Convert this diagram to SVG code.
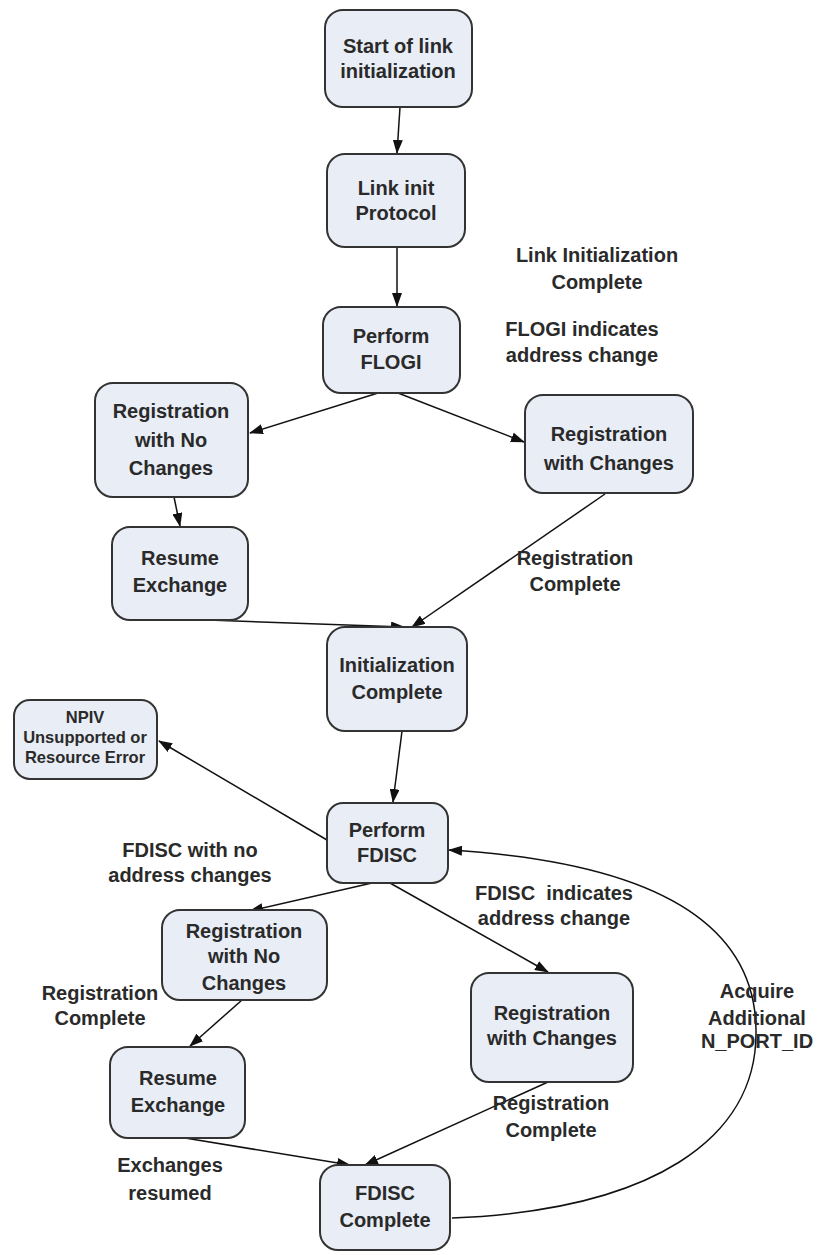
<svg xmlns="http://www.w3.org/2000/svg" width="817" height="1255" viewBox="0 0 817 1255">
<style>
.box{fill:#e9edf6;stroke:#333;stroke-width:2}
text{font-family:"Liberation Sans",Arial,sans-serif;font-weight:bold;font-size:20px;fill:#2a2a2a;text-anchor:middle}
.sm{font-size:16.5px}
.c{fill:none;stroke:#111;stroke-width:1.5}
</style>
<defs>
<marker id="ah" markerWidth="14" markerHeight="10" refX="13" refY="5" orient="auto" markerUnits="userSpaceOnUse">
<path d="M0,0 L14,5 L0,10 Z" fill="#111"/>
</marker>
</defs>
<rect width="817" height="1255" fill="#fff"/>
<g id="connectors">
<line class="c" x1="400" y1="107" x2="397" y2="153" marker-end="url(#ah)"/>
<line class="c" x1="397" y1="247" x2="397" y2="306" marker-end="url(#ah)"/>
<line class="c" x1="378" y1="393" x2="250" y2="433" marker-end="url(#ah)"/>
<line class="c" x1="398" y1="393" x2="524" y2="442" marker-end="url(#ah)"/>
<line class="c" x1="174" y1="497" x2="180" y2="526" marker-end="url(#ah)"/>
<line class="c" x1="605" y1="494" x2="412" y2="627" marker-end="url(#ah)"/>
<line class="c" x1="180" y1="619" x2="404" y2="627" marker-end="url(#ah)"/>
<line class="c" x1="402" y1="731" x2="393" y2="802" marker-end="url(#ah)"/>
<line class="c" x1="327" y1="840" x2="159" y2="741" marker-end="url(#ah)"/>
<line class="c" x1="372" y1="883" x2="250" y2="911" marker-end="url(#ah)"/>
<line class="c" x1="390" y1="883" x2="548" y2="972" marker-end="url(#ah)"/>
<line class="c" x1="242" y1="1000" x2="190" y2="1046" marker-end="url(#ah)"/>
<line class="c" x1="185" y1="1138" x2="350" y2="1165" marker-end="url(#ah)"/>
<line class="c" x1="548" y1="1082" x2="365" y2="1165" marker-end="url(#ah)"/>
<path class="c" d="M452,1218 C650,1210 758,1140 756,1030 C755,920 650,862 449,850" marker-end="url(#ah)"/>
</g>
<g id="n1"><rect class="box" x="325" y="10" width="147" height="97" rx="18"/><text x="398" y="53">Start of link</text><text x="398" y="78">initialization</text></g>
<g id="n2"><rect class="box" x="327" y="154" width="138" height="93" rx="18"/><text x="396" y="195">Link init</text><text x="396" y="220">Protocol</text></g>
<g id="n3"><rect class="box" x="323" y="307" width="137" height="86" rx="18"/><text x="391" y="343">Perform</text><text x="391" y="369">FLOGI</text></g>
<g id="n4"><rect class="box" x="95" y="383" width="153" height="114" rx="18"/><text x="171" y="418">Registration</text><text x="171" y="447">with No</text><text x="171" y="475">Changes</text></g>
<g id="n5"><rect class="box" x="525" y="395" width="168" height="98" rx="18"/><text x="609" y="441">Registration</text><text x="609" y="470">with Changes</text></g>
<g id="n6"><rect class="box" x="112" y="527" width="136" height="93" rx="18"/><text x="180" y="565">Resume</text><text x="180" y="592">Exchange</text></g>
<g id="n7"><rect class="box" x="327" y="627" width="140" height="104" rx="18"/><text x="397" y="672">Initialization</text><text x="397" y="699">Complete</text></g>
<g id="n8"><rect class="box" x="14" y="700" width="143" height="79" rx="16"/><text class="sm" x="85" y="723">NPIV</text><text class="sm" x="85" y="743">Unsupported or</text><text class="sm" x="85" y="763">Resource Error</text></g>
<g id="n9"><rect class="box" x="327" y="803" width="121" height="80" rx="16"/><text x="387" y="837">Perform</text><text x="387" y="862">FDISC</text></g>
<g id="n10"><rect class="box" x="162" y="910" width="165" height="90" rx="18"/><text x="244" y="938">Registration</text><text x="244" y="963">with No</text><text x="244" y="990">Changes</text></g>
<g id="n11"><rect class="box" x="471" y="973" width="162" height="109" rx="18"/><text x="552" y="1020">Registration</text><text x="552" y="1045">with Changes</text></g>
<g id="n12"><rect class="box" x="110" y="1047" width="135" height="91" rx="18"/><text x="178" y="1085">Resume</text><text x="178" y="1112">Exchange</text></g>
<g id="n13"><rect class="box" x="320" y="1165" width="130" height="85" rx="18"/><text x="385" y="1200">FDISC</text><text x="385" y="1227">Complete</text></g>
<g id="labels">
<text x="597" y="262">Link Initialization</text><text x="597" y="289">Complete</text>
<text x="582" y="336">FLOGI indicates</text><text x="582" y="362">address change</text>
<text x="575" y="565">Registration</text><text x="575" y="591">Complete</text>
<text x="190" y="857">FDISC with no</text><text x="190" y="882">address changes</text>
<text x="554" y="900" xml:space="preserve">FDISC  indicates</text><text x="554" y="925">address change</text>
<text x="757" y="998">Acquire</text><text x="757" y="1025">Additional</text><text x="757" y="1048">N_PORT_ID</text>
<text x="100" y="1000">Registration</text><text x="100" y="1025">Complete</text>
<text x="551" y="1110">Registration</text><text x="551" y="1137">Complete</text>
<text x="170" y="1172">Exchanges</text><text x="170" y="1200">resumed</text>
</g>
</svg>
